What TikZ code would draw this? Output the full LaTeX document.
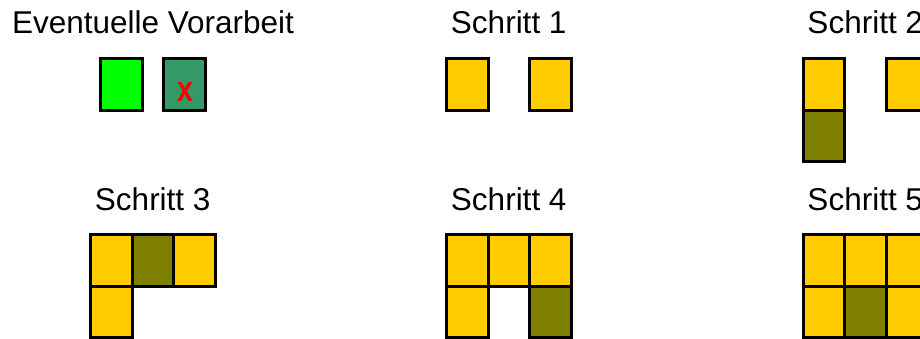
\documentclass[tikz,border=0pt]{standalone}
\usepackage{fontspec}
\setmainfont{Liberation Sans}
\definecolor{gelb}{RGB}{255,204,0}
\definecolor{oliv}{RGB}{128,128,0}
\definecolor{hellgruen}{RGB}{0,255,0}
\definecolor{seegruen}{RGB}{51,153,102}
\tikzset{
  feld/.style={draw, line width=1.5pt, minimum width=20.75pt, minimum height=25.75pt, inner sep=0pt, fill=gelb},
  titel/.style={anchor=base, inner sep=0pt, font=\fontsize{15.75}{19}\selectfont}
}
\begin{document}
\begin{tikzpicture}[x=0.5pt,y=-0.5pt]
\useasboundingbox (0,0) rectangle (920,338);
\node[titel] (t0) at (153,33) {Eventuelle Vorarbeit};
\node[titel] (t1) at (508.75,33) {Schritt 1};
\node[titel] (t2) at (865.25,33) {Schritt 2};
\node[titel] (t3) at (152.75,210) {Schritt 3};
\node[titel] (t4) at (508.75,210) {Schritt 4};
\node[titel] (t5) at (865.25,210) {Schritt 5};

\node[feld,fill=hellgruen] (v1) at (121.7,84.25) {};
\node[feld,fill=seegruen] (v2) at (184.5,84.25) {};
\node[text=red, inner sep=0pt, font=\fontsize{15}{18}\selectfont\bfseries] (vx) at (185.5,91.5) {\scalebox{0.95}[1.2]{x}};

\node[feld] (a1) at (467.25,84.25) {};
\node[feld] (a3) at (550.25,84.25) {};

\node[feld] (b1) at (823.75,84.25) {};
\node[feld,fill=oliv] (b4) at (823.75,135.75) {};
\node[feld] (b3) at (906.75,84.25) {};

\node[feld] (c1) at (111.25,260.55) {};
\node[feld,fill=oliv] (c2) at (152.75,260.55) {};
\node[feld] (c3) at (194.25,260.55) {};
\node[feld] (c4) at (111.25,312.05) {};

\node[feld] (d1) at (467.25,260.55) {};
\node[feld] (d2) at (508.75,260.55) {};
\node[feld] (d3) at (550.25,260.55) {};
\node[feld] (d4) at (467.25,312.05) {};
\node[feld,fill=oliv] (d6) at (550.25,312.05) {};

\node[feld] (e1) at (823.75,260.55) {};
\node[feld] (e2) at (865.25,260.55) {};
\node[feld] (e3) at (906.75,260.55) {};
\node[feld] (e4) at (823.75,312.05) {};
\node[feld,fill=oliv] (e5) at (865.25,312.05) {};
\node[feld] (e6) at (906.75,312.05) {};
\end{tikzpicture}
\end{document}
